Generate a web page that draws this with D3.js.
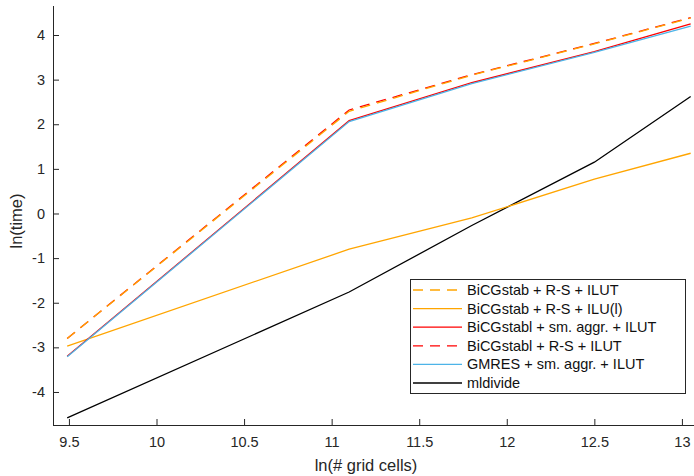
<!DOCTYPE html>
<html><head><meta charset="utf-8">
<script src="https://cdn.jsdelivr.net/npm/d3@7"></script>
<style>
html,body{margin:0;padding:0;background:#fff;}
svg{display:block;font-family:"Liberation Sans",Arial,Helvetica,sans-serif;}
</style></head>
<body>
<svg id="chart" width="694" height="476"></svg>
<script>
const xValues = [9.49, 11.1, 11.8, 12.5, 13.05];
const seriesNames = [
  "BiCGstab + R-S + ILUT",
  "BiCGstab + R-S + ILU(l)",
  "BiCGstabl + sm. aggr. + ILUT",
  "BiCGstabl + R-S + ILUT",
  "GMRES + sm. aggr. + ILUT",
  "mldivide"
];
const bicgstabRsIlut   = [-2.80, 2.29, 3.10, 3.80, 4.38];
const bicgstabRsIlu    = [-2.97, -0.80, -0.10, 0.77, 1.35];
const bicgstablSmIlut  = [-3.20, 2.08, 2.93, 3.63, 4.25];
const bicgstablRsIlut  = [-2.80, 2.32, 3.11, 3.81, 4.39];
const gmresSmIlut      = [-3.21, 2.06, 2.91, 3.61, 4.20];
const mldivide         = [-4.58, -1.76, -0.27, 1.15, 2.62];
const colors = ["#ffa500", "#ffa500", "#ff0000", "#ff0000", "#4db4e8", "#000000"];
const dashed = [true, false, false, true, false, false];
const xTicks = [9.5, 10, 10.5, 11, 11.5, 12, 12.5, 13];
const yTicks = [-4, -3, -2, -1, 0, 1, 2, 3, 4];

const allSeries = [bicgstabRsIlut, bicgstabRsIlu, bicgstablSmIlut, bicgstablRsIlut, gmresSmIlut, mldivide];

const svg = d3.select("#chart");
const mLeft = 53, mRight = 694, mTop = 6, mBottom = 425;
const x = d3.scaleLinear().domain([9.409, 13.069]).range([mLeft, mRight]);
const y = d3.scaleLinear().domain([-4.74, 4.65]).range([mBottom, mTop]);
const fmt = d => String(d);

const axisColor = "#262626";
// x axis
const gx = svg.append("g").attr("transform", `translate(0,${mBottom})`)
  .call(d3.axisBottom(x).tickValues(xTicks).tickFormat(fmt).tickSize(-6).tickPadding(10));
gx.select(".domain").attr("stroke", axisColor).attr("d", `M${mLeft},0.5H${mRight}`);
gx.selectAll(".tick line").attr("stroke", axisColor);
gx.selectAll(".tick text").attr("fill", axisColor).attr("font-size", 14.5).attr("dy", "0.85em");
// y axis
const gy = svg.append("g").attr("transform", `translate(${mLeft},0)`)
  .call(d3.axisLeft(y).tickValues(yTicks).tickFormat(fmt).tickSize(-6).tickPadding(8));
gy.select(".domain").attr("stroke", axisColor).attr("d", `M0.5,${mTop}V${mBottom}`);
gy.selectAll(".tick line").attr("stroke", axisColor);
gy.selectAll(".tick text").attr("fill", axisColor).attr("font-size", 14.5);

// axis labels
svg.append("text").attr("x", 366).attr("y", 471).attr("text-anchor", "middle")
  .attr("font-size", 16.5).attr("fill", axisColor).text("ln(# grid cells)");
svg.append("text").attr("transform", "translate(22,221) rotate(-90)").attr("text-anchor", "middle")
  .attr("font-size", 16.5).attr("fill", axisColor).text("ln(time)");

const line = d3.line().x((d, i) => x(xValues[i])).y(d => y(d));
const drawOrder = [5, 1, 2, 4, 3, 0];
drawOrder.forEach(k => {
  svg.append("path").datum(allSeries[k]).attr("d", line)
    .attr("fill", "none").attr("stroke", colors[k]).attr("stroke-width", 1.3)
    .attr("stroke-dasharray", dashed[k] ? "10,7" : null);
});

// legend
const lg = svg.append("g");
lg.append("rect").attr("x", 410.5).attr("y", 279.5).attr("width", 275).attr("height", 114)
  .attr("fill", "#fff").attr("stroke", "#262626").attr("stroke-width", 1);
seriesNames.forEach((name, i) => {
  const yy = 290 + i * 18.6;
  lg.append("line").attr("x1", 413).attr("x2", 462).attr("y1", yy).attr("y2", yy)
    .attr("stroke", colors[i]).attr("stroke-width", 1.3)
    .attr("stroke-dasharray", dashed[i] ? "10,7" : null);
  lg.append("text").attr("x", 467).attr("y", yy).attr("dy", "0.35em")
    .attr("font-size", 14.5).attr("fill", "#111").text(name);
});
</script>
</body></html>
